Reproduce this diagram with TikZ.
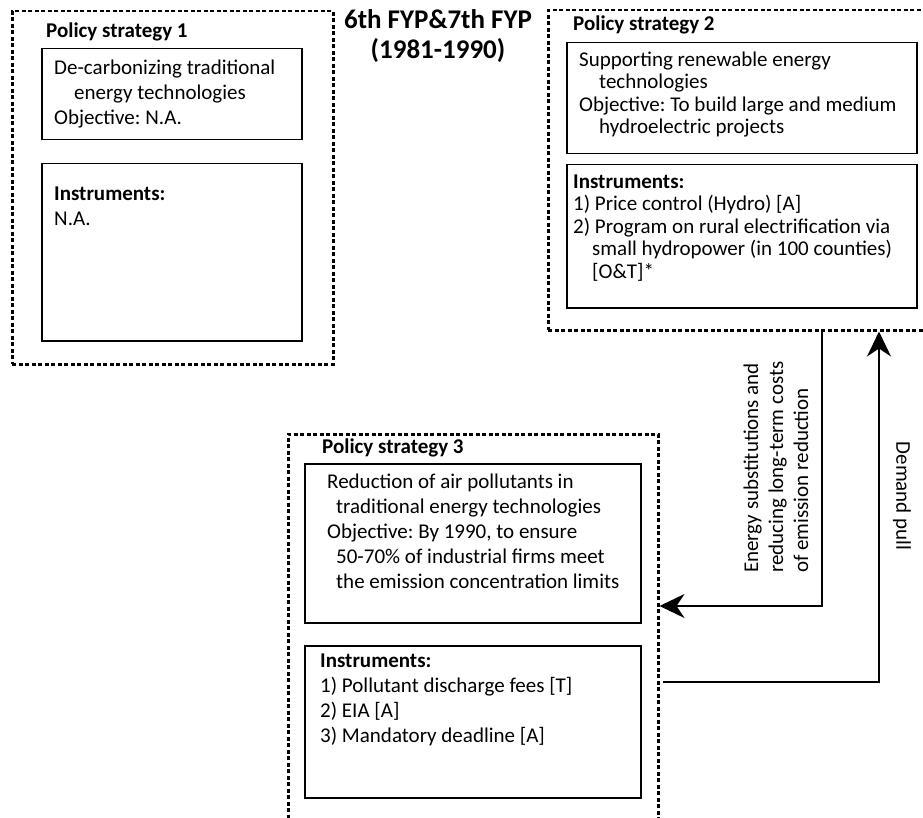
\documentclass[tikz,border=0pt]{standalone}
\usepackage{fontspec}
\setmainfont{Carlito}
\usetikzlibrary{arrows.meta}
\frenchspacing
\begin{document}
\begin{tikzpicture}[x=1pt,y=-1pt,
 outerbox/.style={draw, line width=2.5pt, dash pattern=on 4pt off 2.5pt, inner sep=0pt, anchor=north west},
 innerbox/.style={draw, line width=1.5pt, inner sep=0pt, anchor=north west},
 txt/.style={anchor=west, align=left, inner sep=0pt, font=\fontsize{21}{25}\selectfont},
 txtb/.style={anchor=west, align=left, inner sep=0pt, font=\fontsize{21}{22.5}\selectfont},
 ttl/.style={anchor=west, inner sep=0pt, font=\bfseries\fontsize{21}{25}\selectfont},
 arr/.style={line width=1.5pt, -{Stealth[length=25pt,width=24pt,inset=8pt]}}
]
\useasboundingbox (0,0) rectangle (923,818);
\clip (0,0) rectangle (923,818);
% outer boxes
\node[outerbox, minimum width=321pt, minimum height=353pt] (ps1) at (11,10) {};
\node[outerbox, minimum width=400pt, minimum height=320pt] (ps2) at (547,9) {};
\node[outerbox, minimum width=370pt, minimum height=420pt] (ps3) at (287,433) {};
% inner boxes
\node[innerbox, minimum width=260pt, minimum height=91pt] (b1a) at (41,48) {};
\node[innerbox, minimum width=260pt, minimum height=177pt] (b1b) at (41,163) {};
\node[innerbox, minimum width=350pt, minimum height=111pt] (b2a) at (566,42) {};
\node[innerbox, minimum width=350pt, minimum height=143pt] (b2b) at (566,164) {};
\node[innerbox, minimum width=336pt, minimum height=159pt] (b3a) at (304,463) {};
\node[innerbox, minimum width=336pt, minimum height=152pt] (b3b) at (304,645) {};
% title
\node[align=center, inner sep=0pt, font=\bfseries\fontsize{27}{30}\selectfont] (title) at (438,36) {6th FYP\&7th FYP\\(1981-1990)};
% strategy titles
\node[ttl] (t1) at (46,32) {Policy strategy 1};
\node[ttl] (t2) at (573,25) {Policy strategy 2};
\node[ttl] (t3) at (322,448) {Policy strategy 3};
% texts
\node[txt] (x1a) at (54,94) {De-carbonizing traditional\\\hspace*{20pt}energy technologies\\Objective: N.A.};
\node[txt] (x1b) at (54,206) {\textbf{Instruments:}\\N.A.};
\node[txtb] (x2a) at (579,94.5) {Supporting renewable energy\\\hspace*{20pt}technologies\\Objective: To build large and medium\\\hspace*{20pt}hydroelectric projects};
\node[txtb] (x2b) at (573,228) {\textbf{Instruments:}\\1) Price control (Hydro) [A]\\2) Program on rural electrification via\\\hspace*{19pt}small hydropower (in 100 counties)\\\hspace*{19pt}[O\&T]*};
\node[txt] (x3a) at (327,531) {Reduction of air pollutants in\\\hspace*{9pt}traditional energy technologies\\Objective: By 1990, to ensure\\\hspace*{9pt}50-70\% of industrial firms meet\\\hspace*{9pt}the emission concentration limits};
\node[txt] (x3b) at (320,700) {\textbf{Instruments:}\\1) Pollutant discharge fees [T]\\2) EIA [A]\\3) Mandatory deadline [A]};
% connectors
\coordinate (c1) at (822,0);
\coordinate (c2) at (663,682);
\coordinate (c3) at (879,0);
\draw[arr] (c1 |- ps2.south) |- (ps3.north east |- 0,606);
\draw[arr] (c2) -| (c3 |- ps2.south);
% labels
\node[txt, rotate=90, anchor=west] (lab1) at (776,573) {Energy substitutions and\\reducing long-term costs\\of emission reduction};
\node[txt, rotate=-90, anchor=center] (lab2) at (902,496) {Demand pull};
\end{tikzpicture}
\end{document}
